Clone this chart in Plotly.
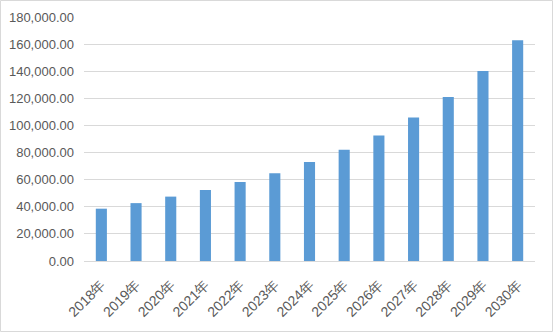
import plotly.graph_objects as go

years = ["2018年", "2019年", "2020年", "2021年", "2022年", "2023年", "2024年",
         "2025年", "2026年", "2027年", "2028年", "2029年", "2030年"]
values = [38600, 42700, 47500, 52400, 58300, 64800, 73100,
          82000, 92500, 105800, 121000, 140200, 162900]
y_ticks = [0, 20000, 40000, 60000, 80000, 100000, 120000, 140000, 160000, 180000]

W, H = 554, 333
L, R, T, B = 84, 19, 17, 72
pw, ph = W - L - R, H - T - B

fig = go.Figure(go.Bar(x=years, y=values, marker=dict(color="#5B9BD5", line=dict(width=0)),
                       width=0.32))
fig.update_layout(
    width=W, height=H,
    margin=dict(l=L, r=R, t=T, b=B, autoexpand=False),
    paper_bgcolor="white", plot_bgcolor="white",
    font=dict(family="Liberation Sans, Arial", size=13, color="#595959"),
    showlegend=False,
)
fig.update_yaxes(range=[0, 180000], tickvals=y_ticks, tickformat=",.2f",
                 showgrid=True, gridcolor="#D9D9D9", gridwidth=1, zeroline=False,
                 showline=False, ticks="", ticklabelstandoff=9, tickfont=dict(size=13),
                 automargin=False)
fig.update_xaxes(tickangle=-45, showgrid=False, showline=True, linecolor="#D9D9D9",
                 linewidth=1, ticks="", tickfont=dict(size=14), ticklabelstandoff=9,
                 automargin=False)
fig.add_shape(type="rect", xref="paper", yref="paper",
              x0=-(L - 0.5) / pw, x1=1 + (R - 1.5) / pw,
              y0=-(B - 1.5) / ph, y1=1 + (T - 0.5) / ph,
              line=dict(color="#D9D9D9", width=1), layer="below")
fig.write_html("out.html")
